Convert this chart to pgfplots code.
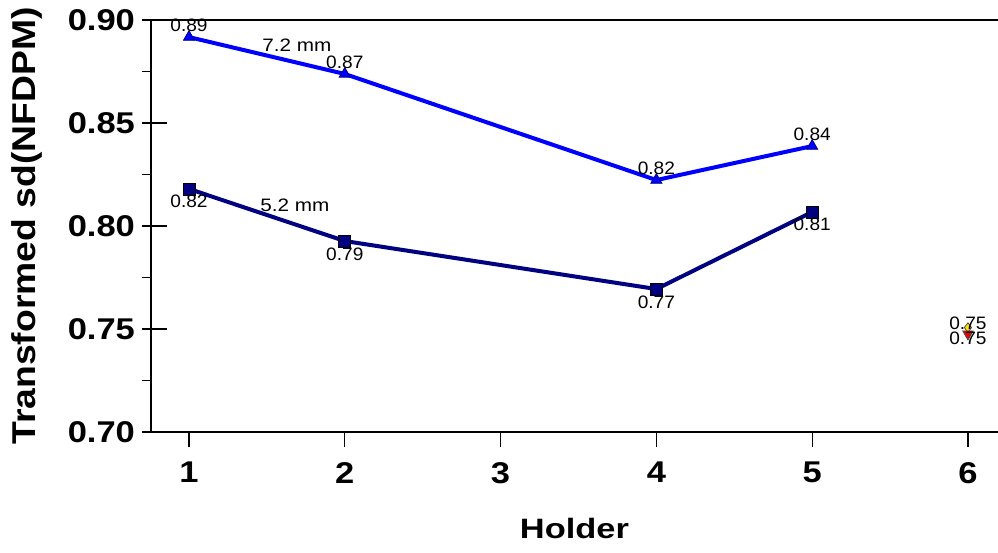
\documentclass[border=0pt]{standalone}
\usepackage{pgfplots}
\pgfplotsset{compat=1.18}
\usepackage{fontspec}
\setmainfont{Liberation Sans}
\newfontfamily\tickfont[FakeStretch=1.15]{Liberation Sans}
\newfontfamily\xlabfont[FakeStretch=1.23]{Liberation Sans}
\newfontfamily\ylabfont[FakeStretch=1.13]{Liberation Sans}
\newfontfamily\datafont[FakeStretch=1.06]{Liberation Sans}
\newfontfamily\annfont[FakeStretch=1.15]{Liberation Sans}
\definecolor{myblue}{RGB}{0,0,255}
\definecolor{mynavy}{RGB}{0,0,128}
\definecolor{myyellow}{RGB}{255,230,0}
\definecolor{myred}{RGB}{230,0,0}
\begin{document}
\begin{tikzpicture}
\begin{axis}[name=ax, scale only axis, width=423.5pt, height=206pt,
  xmin=0.756, xmax=6.193, ymin=0.70, ymax=0.90,
  axis lines=left, axis line style={-, line width=0.8pt},
  tick align=outside, major tick length=4.5pt, minor tick length=4.5pt,
  tick style={line width=0.6pt, black},
  xtick={1,2,3,4,5,6}, ytick={0.70,0.75,0.80,0.85,0.90},
  minor y tick num=1, minor x tick num=0,
  extra x ticks={1,2,3,4,5,6}, extra x tick labels={},
  extra x tick style={major tick length=7.5pt},
  extra y ticks={0.75,0.80,0.85}, extra y tick labels={},
  extra y tick style={tick align=inside, major tick length=8pt},
  /pgf/number format/assume math mode=true,
  yticklabel style={/pgf/number format/.cd, fixed, fixed zerofill, precision=2},
  xticklabel style={yshift=-7pt, /pgf/number format/.cd, fixed, precision=0},
  ticklabel style={font=\tickfont\fontsize{15}{18}\selectfont\bfseries},
  xlabel={Holder}, ylabel={Transformed sd(NFDPM)},
  xlabel style={at={(axis description cs:0.5,-0.233)}, anchor=center,
    font=\xlabfont\fontsize{14}{17}\selectfont\bfseries},
  ylabel style={at={(axis description cs:-0.1464,0.5)}, anchor=center,
    font=\ylabfont\fontsize{16.5}{19}\selectfont\bfseries},
  clip=false,
]
% 7.2 mm series
\addplot[myblue, line width=2pt, mark=triangle*, mark size=3.2pt,
  mark options={fill=myblue, draw=black!50!blue, line width=0.4pt},
  point meta=y,
  nodes near coords={\pgfmathprintnumber[fixed,fixed zerofill,precision=2]{\pgfplotspointmeta}},
  nodes near coords style={black, anchor=south, inner sep=0pt, yshift=2.5pt, font=\datafont\fontsize{9}{10}\selectfont}]
  coordinates {(1,0.8917) (2,0.8738) (4,0.8223) (5,0.8388)};
% 5.2 mm series
\addplot[mynavy, line width=2pt, mark=square*, mark size=3pt,
  mark options={fill=mynavy, draw=black, line width=0.4pt},
  point meta=y,
  nodes near coords={\pgfmathprintnumber[fixed,fixed zerofill,precision=2]{\pgfplotspointmeta}},
  nodes near coords style={black, anchor=north, inner sep=0pt, yshift=-3pt, font=\datafont\fontsize{9}{10}\selectfont}]
  coordinates {(1,0.8180) (2,0.7927) (4,0.7694) (5,0.8068)};
% holder 6 points
\addplot[only marks, mark=diamond*, mark size=2.4pt,
  mark options={fill=myyellow, draw=black!70, line width=0.4pt},
  point meta=y,
  nodes near coords={\pgfmathprintnumber[fixed,fixed zerofill,precision=2]{\pgfplotspointmeta}},
  nodes near coords style={black, anchor=south, inner sep=0pt, yshift=-1.25pt, font=\datafont\fontsize{9}{10}\selectfont}]
  coordinates {(6,0.7507)};
\addplot[only marks, mark=triangle*, mark size=3pt,
  mark options={fill=myred, draw=black!70, line width=0.4pt, rotate=180},
  point meta=y,
  nodes near coords={\pgfmathprintnumber[fixed,fixed zerofill,precision=2]{\pgfplotspointmeta}},
  nodes near coords style={black, anchor=north, inner sep=0pt, yshift=1pt, font=\datafont\fontsize{9}{10}\selectfont}]
  coordinates {(6,0.7476)};
\node[font=\annfont\fontsize{9}{10}\selectfont] at (axis cs:1.693,0.8879) {7.2 mm};
\node[font=\annfont\fontsize{9}{10}\selectfont] at (axis cs:1.68,0.8102) {5.2 mm};
\end{axis}
\draw[line width=0.8pt] (ax.north west) -- (ax.north east);
\pgfresetboundingbox
\path ([shift={(-75.5pt,-60pt)}]ax.south west) rectangle ([shift={(0pt,10pt)}]ax.north east);
\end{tikzpicture}
\end{document}
